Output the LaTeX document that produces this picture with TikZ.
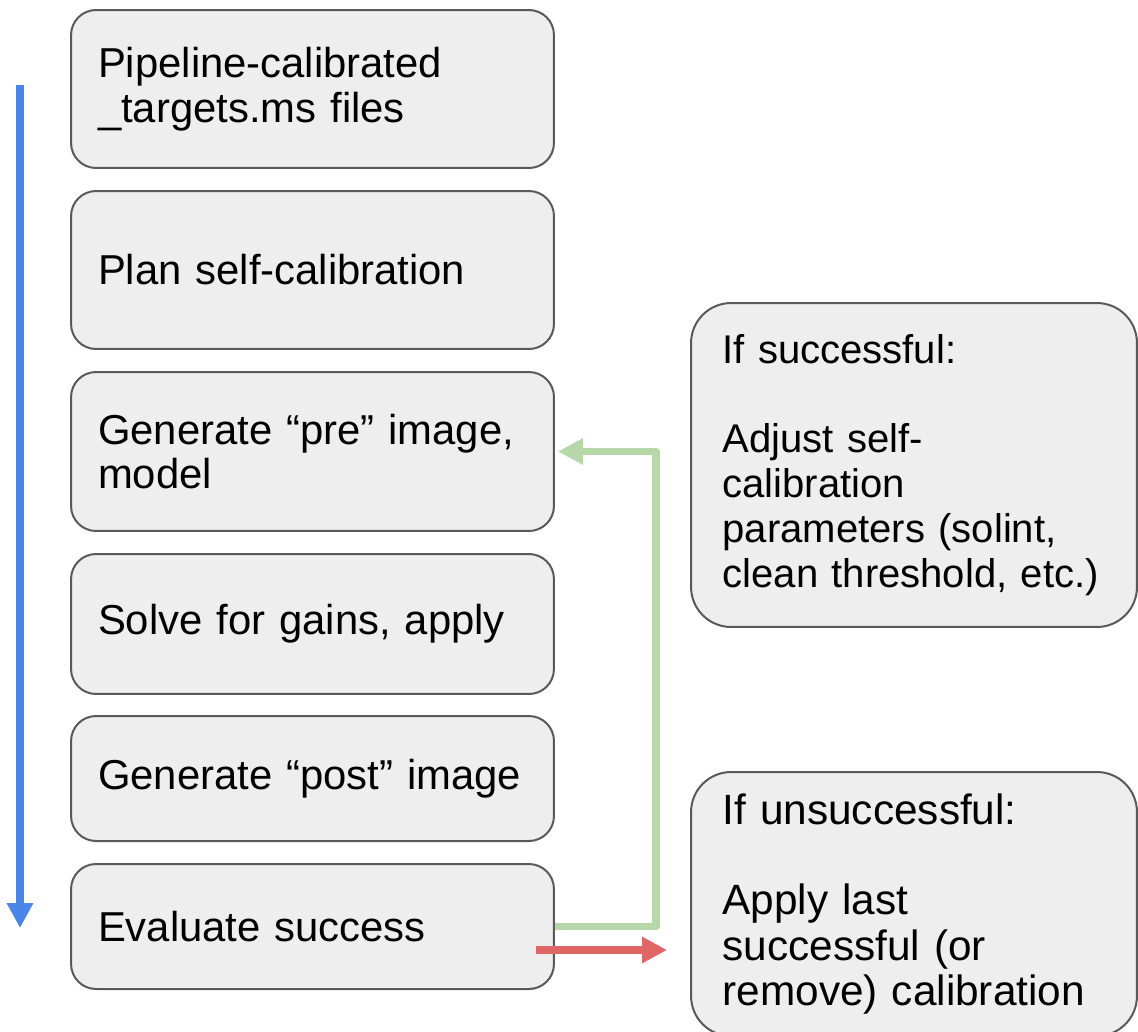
\documentclass[tikz,border=0pt]{standalone}
\usepackage{fontspec}
\setmainfont{Liberation Sans}
\usepackage{tikz}
\usetikzlibrary{arrows.meta}

\definecolor{boxfill}{HTML}{EEEEEE}
\definecolor{boxline}{HTML}{595959}
\definecolor{flowblue}{HTML}{4A86E8}
\definecolor{okgreen}{HTML}{B6D7A8}
\definecolor{failred}{HTML}{E06666}

\begin{document}
\frenchspacing
\begin{tikzpicture}[x=0.02cm,y=-0.02cm,
  stepbox/.style={draw=boxline,fill=boxfill,line width=0.04cm,rounded corners=0.5cm,
    minimum width=9.66cm,inner xsep=0.54cm,text width=8.58cm,align=left,
    font=\fontsize{23.8}{25.5}\selectfont},
  notebox/.style={stepbox,rounded corners=0.8cm,minimum width=8.92cm,
    inner xsep=0.63cm,text width=7.66cm},
  flow/.style={line width=0.15cm,-{Triangle[width=0.5cm,length=0.5cm]}}]

\useasboundingbox (0,0) rectangle (1138,1031);

% pipeline step nodes
\node[stepbox,minimum height=3.16cm] (targets) at (312.5,89) {Pipeline-calibrated\\\_targets.ms files};
\node[stepbox,minimum height=3.16cm] (plan) at (312.5,270) {Plan self-calibration};
\node[stepbox,minimum height=3.18cm] (pre) at (312.5,451.5) {Generate “pre” image,\\model};
\node[stepbox,minimum height=2.8cm] (solve) at (312.5,624) {Solve for gains, apply};
\node[stepbox,minimum height=2.5cm] (post) at (312.5,778.5) {Generate “post” image};
\node[stepbox,minimum height=2.5cm] (eval) at (312.5,926.5) {Evaluate success};

% outcome nodes
\node[notebox,minimum height=6.48cm,font=\fontsize{22.8}{25.5}\selectfont] (success) at (914,465) {If successful:\\[\baselineskip]Adjust self-\\calibration\\parameters (solint,\\clean threshold, etc.)};
\node[notebox,minimum height=5.28cm,font=\fontsize{24.1}{25.8}\selectfont] (failure) at (914,904) {If unsuccessful:\\[\baselineskip]Apply last\\successful (or\\remove) calibration};

% order of steps
\coordinate (flowtop) at (20,85);
\coordinate (flowend) at (20,928);
\draw[flow,flowblue,line width=0.16cm] (flowtop) -- (flowend);

% loop back if successful
\draw[flow,okgreen,line join=round] (eval.east) -- ++(101,0) |- ([xshift=0.06cm]pre.east);

% fall back if unsuccessful
\coordinate (failstart) at (536,950);
\coordinate (failend) at (667,950);
\draw[flow,failred] (failstart) -- (failend);

\end{tikzpicture}
\end{document}
